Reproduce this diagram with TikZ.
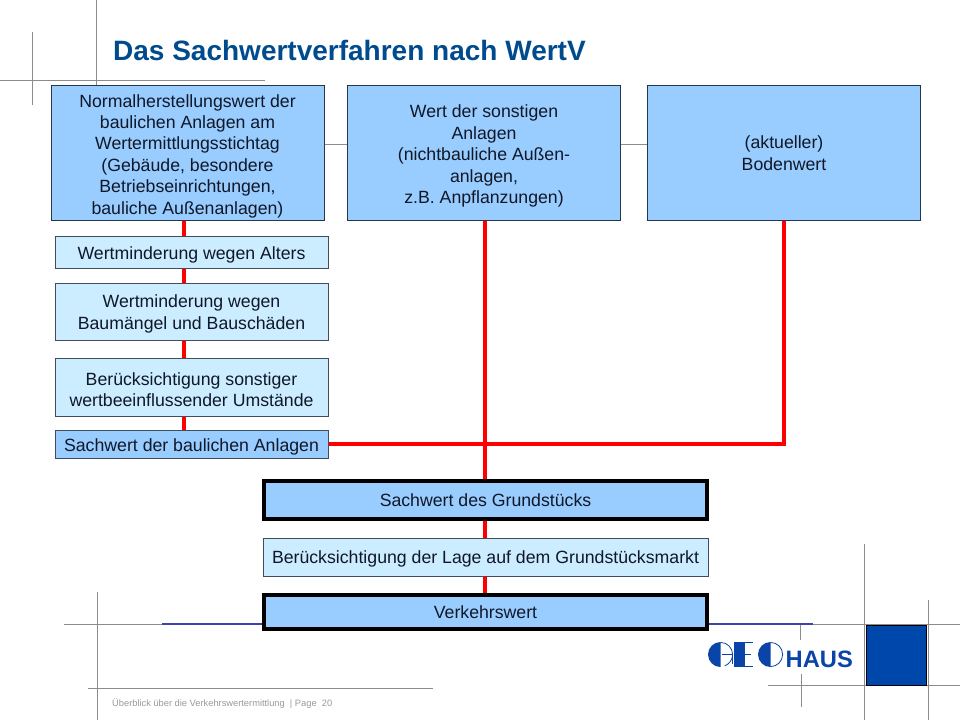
\documentclass[tikz,border=0pt]{standalone}
\usepackage{fontspec}
\usetikzlibrary{shadows}
\setmainfont{Liberation Sans}
\definecolor{midblue}{HTML}{99CCFF}
\definecolor{lightblue}{HTML}{CCECFF}
\definecolor{titleblue}{HTML}{004B8D}
\definecolor{logoblue}{HTML}{0A44A8}
\definecolor{squareblue}{HTML}{0047AB}
\definecolor{gridgray}{HTML}{8C8C8C}
\definecolor{boxedge}{HTML}{25384A}
\definecolor{txt}{HTML}{101828}
\definecolor{lineblue}{HTML}{4040B0}
\newcommand\dnstrut[1][18pt]{\rule{0pt}{#1}}
\tikzset{
  basebox/.style={anchor=center,inner sep=0pt,align=center,text=txt,font=\fontsize{17.7}{21.4}\selectfont,
    drop shadow={shadow xshift=0.8pt,shadow yshift=-0.8pt,fill=gray!70,opacity=1}},
  bigbox/.style={basebox,draw=boxedge,line width=1pt,fill=midblue,minimum width=273pt,minimum height=135pt},
  subbox/.style={basebox,draw=boxedge!70!gray,line width=1pt,fill=lightblue,minimum width=273pt},
  heavybox/.style={basebox,draw=black,line width=3.6pt,fill=midblue,minimum width=443pt},
  redline/.style={draw=red,line width=4pt},
  gridline/.style={draw=gridgray,line width=0.9pt},
  thinlink/.style={draw=gridgray,line width=0.8pt},
  blueline/.style={draw=lineblue,line width=1.2pt},
  logofill/.style={fill=logoblue,draw=none}
}
\begin{document}
\begin{tikzpicture}[x=1pt,y=-1pt]
\useasboundingbox (0,0) rectangle (960,720);
% grid lines
\draw[gridline] (0,80.5) -- (265,80.5);
\draw[gridline] (32.5,32) -- (32.5,105);
\draw[gridline] (96.5,0) -- (96.5,85);
\draw[gridline] (97,592) -- (97,720);
\draw[gridline] (64,624) -- (162,624);
\draw[gridline] (88,688) -- (433,688);
\draw[gridline] (813,624) -- (960,624);
\draw[gridline] (768,685) -- (960,685);
\draw[gridline] (864.5,544) -- (864.5,720);
\draw[gridline] (928.5,600) -- (928.5,720);
\draw[gridline] (800.5,624) -- (800.5,640);
\draw[gridline] (801.5,674) -- (801.5,707);
\draw[blueline] (162,624) -- (813,624);
% title
\node[anchor=base west,inner sep=0pt,text=titleblue,font=\fontsize{28}{32}\selectfont\bfseries] (title) at (113,60) {Das Sachwertverfahren nach WertV};
% boxes
\node[bigbox] (norm) at (187.5,152.5) {\dnstrut[20pt]Normalherstellungswert der\\baulichen Anlagen am\\Wertermittlungsstichtag\\(Gebäude, besondere\\Betriebseinrichtungen,\\bauliche Außenanlagen)};
\node[bigbox] (sonst) at (484,152.5) {\dnstrut[20pt]Wert der sonstigen\\Anlagen\\(nichtbauliche Außen-\\anlagen,\\z.B. Anpflanzungen)};
\node[bigbox] (boden) at (784,152.5) {\dnstrut[14pt](aktueller)\\Bodenwert};
\node[subbox,minimum height=32pt] (alter) at (191.5,252) {\dnstrut Wertminderung wegen Alters};
\node[subbox,minimum height=57pt] (mangel) at (191.5,311.5) {\dnstrut Wertminderung wegen\\Baumängel und Bauschäden};
\node[subbox,minimum height=58pt] (umst) at (191.5,387) {\dnstrut Berücksichtigung sonstiger\\wertbeeinflussender Umstände};
\node[subbox,fill=midblue,minimum height=28pt] (sach) at (191.5,444) {\dnstrut Sachwert der baulichen Anlagen};
\node[heavybox,minimum height=38pt] (grund) at (485.5,500) {\dnstrut[14pt]Sachwert des Grundstücks};
\node[subbox,minimum width=445pt,minimum height=38pt] (lage) at (485.5,557) {\dnstrut[16pt]Berücksichtigung der Lage auf dem Grundstücksmarkt};
\node[heavybox,minimum height=34pt] (verkehr) at (485.5,612) {\dnstrut[14pt]Verkehrswert};
% connectors
\coordinate (spine) at ([xshift=-3.5pt]norm.south);
\coordinate (trunk) at ([xshift=-0.5pt]grund.north);
\draw[thinlink] ([yshift=8pt]norm.east) -- ([yshift=8pt]sonst.west);
\draw[thinlink] ([yshift=8pt]sonst.east) -- ([yshift=8pt]boden.west);
\draw[redline] (spine) -- (alter.north -| spine);
\draw[redline] (alter.south -| spine) -- (mangel.north -| spine);
\draw[redline] (mangel.south -| spine) -- (umst.north -| spine);
\draw[redline] (umst.south -| spine) -- (sach.north -| spine);
\draw[redline] (sonst.south -| trunk) -- (trunk);
\draw[redline] (boden.south) -- (boden.south |- sach.east) -- (sach.east);
\draw[redline] (grund.south -| trunk) -- (lage.north -| trunk);
\draw[redline] (lage.south -| trunk) -- (verkehr.north -| trunk);
% blue square
\node[draw=black,line width=1pt,fill=squareblue,minimum width=60pt,minimum height=60pt,inner sep=0pt] (square) at (896.5,655) {};
% logo
\fill[logofill] (720.5,642) arc[start angle=90,end angle=270,radius=12.5pt] -- cycle;
\draw[logoblue,line width=0.8pt] (720.5,642.4) arc[start angle=90,end angle=-70,radius=12.1pt];
\fill[logofill] (722,654.2) rectangle (733,655.4);
\fill[logofill] (731.8,654.2) rectangle (733,664);
\fill[logofill] (734,642) rectangle (745,667);
\fill[logofill] (745,642) rectangle (753,643.2);
\fill[logofill] (745,654) rectangle (751,655.2);
\fill[logofill] (745,665.8) rectangle (753,667);
\fill[logofill] (770.5,642) arc[start angle=90,end angle=270,radius=12.5pt] -- cycle;
\draw[logoblue,line width=0.8pt] (770.5,642.4) arc[start angle=90,end angle=-90,radius=12.1pt];
\node[anchor=base west,inner sep=0pt,text=logoblue,font=\fontsize{23.7}{24}\selectfont\bfseries] (haus) at (785.5,667) {HAUS};
% footer
\node[anchor=base west,inner sep=0pt,text=gray!80,font=\fontsize{9.3}{10}\selectfont] (foot) at (112,706) {Überblick über die Verkehrswertermittlung \ | Page \ 20};
\end{tikzpicture}
\end{document}
